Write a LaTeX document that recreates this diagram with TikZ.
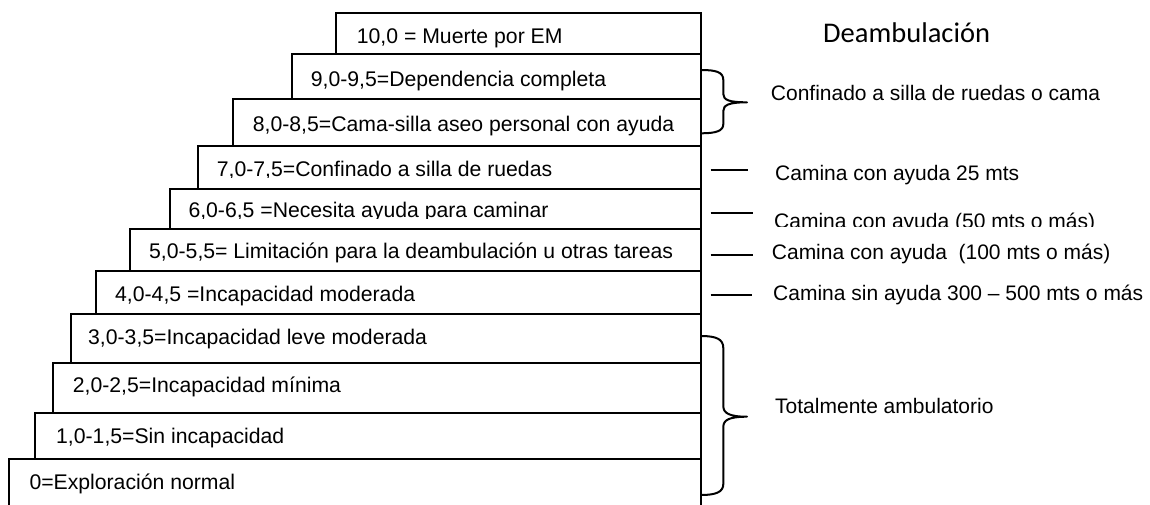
\documentclass[tikz,border=0pt]{standalone}
\usepackage{fontspec}
\setmainfont{Liberation Sans}
\newfontfamily\calib{Carlito}
\begin{document}
\begin{tikzpicture}[x=1pt,y=-1pt,
  box/.style={draw=black, fill=white, line width=2pt, inner sep=0pt, anchor=north west},
  ltext/.style={anchor=base west, inner sep=0pt, font=\fontsize{21.2}{25}\selectfont},
  rtext/.style={anchor=base west, inner sep=0pt, font=\fontsize{21}{25}\selectfont},
  dashline/.style={line width=1.5pt},
  brace/.style={line width=2pt, line join=round}]
\useasboundingbox (0,0) rectangle (1150,504);
% boxes from top to bottom
\node[box, minimum width=365pt,   minimum height=41.6pt] (b10) at (335,11.7) {};
\node[ltext] (t10) at (356.7,43.3) {10,0 = Muerte por EM};
\node[box, minimum width=409.3pt, minimum height=44.4pt] (b9) at (290.7,53.3) {};
\node[ltext] (t9) at (310.7,86) {9,0-9,5=Dependencia completa};
\node[box, minimum width=468.3pt, minimum height=47.3pt] (b8) at (231.7,97.7) {};
\node[ltext] (t8) at (252.7,131) {8,0-8,5=Cama-silla aseo personal con ayuda};
\node[box, minimum width=503.3pt, minimum height=42.7pt] (b7) at (196.7,145) {};
\begin{scope}
\clip (0,0) rectangle (700,177.6);
\node[ltext] (t7) at (216.7,176.7) {7,0-7,5=Confinado a silla de ruedas};
\end{scope}
\node[box, minimum width=531pt,   minimum height=40pt] (b6) at (169,187.7) {};
\begin{scope}
\clip (0,0) rectangle (700,218.4);
\node[ltext] (t6) at (188.3,217.5) {6,0-6,5 =Necesita ayuda para caminar};
\end{scope}
\node[box, minimum width=571.4pt, minimum height=42.3pt] (b5) at (128.6,227.7) {};
\node[ltext] (t5) at (149,258.3) {5,0-5,5= Limitación para la deambulación u otras tareas};
\node[box, minimum width=605pt,   minimum height=43.3pt] (b4) at (95,270) {};
\node[ltext] (t4) at (115,301.7) {4,0-4,5 =Incapacidad moderada};
\node[box, minimum width=630pt,   minimum height=48.4pt] (b3) at (70,313.3) {};
\node[ltext] (t3) at (88,344) {3,0-3,5=Incapacidad leve moderada};
\node[box, minimum width=647.7pt, minimum height=50.6pt] (b2) at (52.3,361.7) {};
\node[ltext] (t2) at (72.7,392.7) {2,0-2,5=Incapacidad mínima};
\node[box, minimum width=666pt,   minimum height=46pt] (b1) at (34,412.3) {};
\node[ltext] (t1) at (56,443.3) {1,0-1,5=Sin incapacidad};
\node[box, minimum width=691.7pt, minimum height=52pt] (b0) at (8.3,458.3) {};
\node[ltext] (t0) at (29.3,489.3) {0=Exploración normal};

% title
\node[anchor=base west, inner sep=0pt, font=\calib\fontsize{28.5}{33}\selectfont] (title) at (823,42.3) {Deambulación};

% upper brace
\coordinate (u1) at (701,70);
\coordinate (um) at (747,102.3);
\coordinate (u2) at (701,133.3);
\draw[brace] (u1) .. controls (716,70) and (723.3,72) .. (723.3,80) -- (723.3,94)
  .. controls (723.3,100) and (729,102.3) .. (um)
  .. controls (729,102.3) and (723.3,105) .. (723.3,111) -- (723.3,124)
  .. controls (723.3,131) and (716,133.3) .. (u2);
\node[rtext] (conf) at (770.7,100.7) {Confinado a silla de ruedas o cama};

% dashes and walking texts
\coordinate (d1a) at (710.7,170); \coordinate (d1b) at (748,170);
\coordinate (d2a) at (710.7,213); \coordinate (d2b) at (753,213);
\coordinate (d3a) at (710.7,255); \coordinate (d3b) at (752.7,255);
\coordinate (d4a) at (710.7,295); \coordinate (d4b) at (751.7,295);
\draw[dashline] (d1a) -- (d1b);
\draw[dashline] (d2a) -- (d2b);
\draw[dashline] (d3a) -- (d3b);
\draw[dashline] (d4a) -- (d4b);
\node[rtext] (w1) at (775,180) {Camina con ayuda 25 mts};
\begin{scope}
\clip (700,0) rectangle (1150,226.2);
\node[rtext] (w2) at (774,228) {Camina con ayuda (50 mts o más)};
\end{scope}
\node[rtext] (w3) at (771.7,259.3) {Camina con ayuda \ (100 mts o más)};
\node[rtext] (w4) at (773,300.5) {Camina sin ayuda 300 – 500 mts o más};

% lower brace
\coordinate (l1) at (701,336);
\coordinate (lm) at (747,416.7);
\coordinate (l2) at (701,495);
\draw[brace] (l1) .. controls (716,336) and (723.3,339) .. (723.3,348) -- (723.3,406)
  .. controls (723.3,413) and (729,416.7) .. (lm)
  .. controls (729,416.7) and (723.3,420) .. (723.3,427) -- (723.3,484)
  .. controls (723.3,492) and (716,495) .. (l2);
\node[rtext] (amb) at (775,413.3) {Totalmente ambulatorio};
\end{tikzpicture}
\end{document}
